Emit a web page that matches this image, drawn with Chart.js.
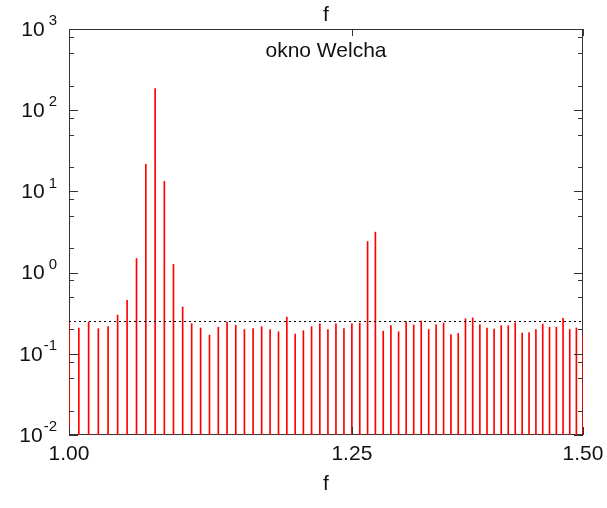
<!DOCTYPE html>
<html>
<head>
<meta charset="utf-8">
<title>okno Welcha</title>
<script src="https://cdn.jsdelivr.net/npm/chart.js@4.4.1/dist/chart.umd.min.js"></script>
<style>
  html, body { margin: 0; padding: 0; background: #fff; }
  #wrap { width: 607px; height: 508px; }
</style>
</head>
<body>
<div id="wrap"><canvas id="chartWelch" width="607" height="508"></canvas></div>
<script>
// widmo mocy, okno Welcha (skala log-log)

const FREQ = [
  1.0000, 1.0078, 1.0156, 1.0234, 1.0313, 1.0391, 1.0469, 1.0547, 1.0625, 1.0703,
  1.0781, 1.0859, 1.0938, 1.1016, 1.1094, 1.1172, 1.1250, 1.1328, 1.1406, 1.1484,
  1.1563, 1.1641, 1.1719, 1.1797, 1.1875, 1.1953, 1.2031, 1.2109, 1.2188, 1.2266,
  1.2344, 1.2422, 1.2500, 1.2578, 1.2656, 1.2734, 1.2813, 1.2891, 1.2969, 1.3047,
  1.3125, 1.3203, 1.3281, 1.3359, 1.3438, 1.3516, 1.3594, 1.3672, 1.3750, 1.3828,
  1.3906, 1.3984, 1.4063, 1.4141, 1.4219, 1.4297, 1.4375, 1.4453, 1.4531, 1.4609,
  1.4688, 1.4766, 1.4844, 1.4922, 1.5000
];

const POWER = [
  0.24, 0.207, 0.246, 0.204, 0.216, 0.30, 0.455, 1.49, 21.5, 185,
  13.3, 1.26, 0.377, 0.235, 0.208, 0.17, 0.213, 0.246, 0.225, 0.199,
  0.204, 0.216, 0.199, 0.187, 0.284, 0.175, 0.193, 0.216, 0.234, 0.199,
  0.234, 0.204, 0.234, 0.239, 2.41, 3.15, 0.19, 0.222, 0.187, 0.248,
  0.227, 0.253, 0.199, 0.228, 0.239, 0.172, 0.178, 0.27, 0.277, 0.228,
  0.208, 0.202, 0.222, 0.222, 0.241, 0.18, 0.182, 0.199, 0.232, 0.213,
  0.213, 0.274, 0.199, 0.208, 0.17
];

const THRESHOLD = 0.25;          // linia kropkowana
const X_MIN = 1.0, X_MAX = 1.5;
const Y_MIN = 0.01, Y_MAX = 1000;
const X_TICKS = [1.00, 1.25, 1.50];
const Y_EXPONENTS = [-2, -1, 0, 1, 2, 3];
const Y_MINOR_MULT = [2, 5, 8];

const FONT = '"Liberation Sans", Arial, Helvetica, sans-serif';
const AXIS_COLOR = "#333";

// ramka pod słupkami, podziałki do środka, opisy osi z potęgami
const frameAndLabels = {
  id: "frameAndLabels",
  beforeDatasetsDraw(chart) {
    const { ctx, chartArea: a } = chart;
    ctx.save();
    ctx.strokeStyle = AXIS_COLOR;
    ctx.lineWidth = 1;
    ctx.strokeRect(a.left + 0.5, a.top + 0.5, a.right - a.left - 1, a.bottom - a.top - 1);
    ctx.restore();
  },
  afterDatasetsDraw(chart) {
    const { ctx, chartArea: a, scales } = chart;
    const xs = scales.x, ys = scales.y;
    ctx.save();
    ctx.strokeStyle = AXIS_COLOR;
    ctx.lineWidth = 1;

    // podziałki osi Y (obie strony)
    const tick = (y, len) => {
      const yy = Math.round(y) + 0.5;
      ctx.beginPath();
      ctx.moveTo(a.left, yy); ctx.lineTo(a.left + len, yy);
      ctx.moveTo(a.right, yy); ctx.lineTo(a.right - len, yy);
      ctx.stroke();
    };
    Y_EXPONENTS.forEach((e) => {
      tick(ys.getPixelForValue(Math.pow(10, e)), 9);
      if (e < 3) Y_MINOR_MULT.forEach((m) => tick(ys.getPixelForValue(m * Math.pow(10, e)), 5));
    });

    // podziałki osi X (dół i góra)
    X_TICKS.forEach((v) => {
      const xx = Math.round(xs.getPixelForValue(v)) + 0.5;
      ctx.beginPath();
      ctx.moveTo(xx, a.bottom); ctx.lineTo(xx, a.bottom - 8);
      ctx.moveTo(xx, a.top); ctx.lineTo(xx, a.top + 7);
      ctx.stroke();
    });

    ctx.fillStyle = "#111";

    // opisy osi Y: 10^e
    const right = 57;
    Y_EXPONENTS.forEach((e) => {
      const y = ys.getPixelForValue(Math.pow(10, e));
      const sup = String(e);
      ctx.font = "15px " + FONT;
      const supW = ctx.measureText(sup).width;
      ctx.textAlign = "left";
      ctx.textBaseline = "middle";
      ctx.fillText(sup, right - supW, y - 8);
      ctx.font = "21px " + FONT;
      ctx.textAlign = "right";
      ctx.fillText("10", right - supW - (e < 0 ? 1 : 4), y + 1);
    });

    // opisy osi X
    ctx.font = "21px " + FONT;
    ctx.textAlign = "center";
    ctx.textBaseline = "middle";
    X_TICKS.forEach((v) => {
      ctx.fillText(v.toFixed(2), xs.getPixelForValue(v), a.bottom + 19);
    });

    const cx = (a.left + a.right) / 2;
    ctx.textBaseline = "alphabetic";
    ctx.fillText("f", cx, a.bottom + 55);
    ctx.fillText("f", cx, 21);
    ctx.fillText("okno Welcha", cx, a.top + 28);

    ctx.restore();
  },
};

function initChart() {
  const ctx = document.getElementById("chartWelch").getContext("2d");
  return new Chart(ctx, {
    type: "bar",
    data: {
      datasets: [
        {
          type: "bar",
          label: "okno Welcha",
          data: FREQ.map((f, i) => ({ x: f, y: [Y_MIN, POWER[i]] })),
          backgroundColor: "#ff0000",
          borderWidth: 0,
          barThickness: 1,
          grouped: false,
          order: 2,
        },
        {
          type: "line",
          label: "poziom",
          data: [
            { x: X_MIN, y: THRESHOLD },
            { x: X_MAX, y: THRESHOLD },
          ],
          borderColor: "#000",
          borderWidth: 1,
          borderDash: [2, 3],
          pointRadius: 0,
          order: 1,
        },
      ],
    },
    options: {
      responsive: false,
      animation: false,
      layout: { padding: { left: 69, right: 24, top: 29, bottom: 73 } },
      plugins: {
        legend: { display: false },
        tooltip: { enabled: false },
        title: { display: false },
      },
      scales: {
        x: {
          type: "logarithmic",
          min: X_MIN,
          max: X_MAX,
          offset: false,
          display: false,
        },
        y: {
          type: "logarithmic",
          min: Y_MIN,
          max: Y_MAX,
          display: false,
        },
      },
    },
    plugins: [frameAndLabels],
  });
}

initChart();
</script>
</body>
</html>
